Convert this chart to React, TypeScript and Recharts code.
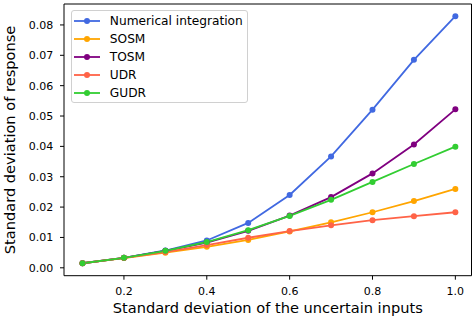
import React from 'react';
import { LineChart, Line, XAxis, YAxis, Legend, ReferenceArea } from 'recharts';

const sigmaInputs = [0.1, 0.2, 0.3, 0.4, 0.5, 0.6, 0.7, 0.8, 0.9, 1.0];
const numericalIntegration = [0.0015, 0.0033, 0.0057, 0.0090, 0.0148, 0.0240, 0.0367, 0.0521, 0.0685, 0.0829];
const sosm = [0.0015, 0.0032, 0.0050, 0.0069, 0.0092, 0.0120, 0.0150, 0.0183, 0.0220, 0.0260];
const tosm = [0.0015, 0.0033, 0.0056, 0.0083, 0.0122, 0.0172, 0.0233, 0.0311, 0.0406, 0.0522];
const udr = [0.0015, 0.0033, 0.0052, 0.0075, 0.0099, 0.0121, 0.0140, 0.0157, 0.0170, 0.0183];
const gudr = [0.0015, 0.0033, 0.0056, 0.0085, 0.0124, 0.0171, 0.0224, 0.0283, 0.0342, 0.0399];

const xTicks = [0.2, 0.4, 0.6, 0.8, 1.0];
const yTicks = [0, 0.01, 0.02, 0.03, 0.04, 0.05, 0.06, 0.07, 0.08];
const xDomain: [number, number] = [0.0553, 1.039];
const yDomain: [number, number] = [-0.0026, 0.0869];

const xLabel = 'Standard deviation of the uncertain inputs';
const yLabel = 'Standard deviation of response';

const series = [
  { key: 'ni', name: 'Numerical integration', color: '#4169E1', values: numericalIntegration },
  { key: 'sosm', name: 'SOSM', color: '#FFA500', values: sosm },
  { key: 'tosm', name: 'TOSM', color: '#800080', values: tosm },
  { key: 'udr', name: 'UDR', color: '#FF6347', values: udr },
  { key: 'gudr', name: 'GUDR', color: '#32CD32', values: gudr },
];

const data = sigmaInputs.map((x, i) => {
  const row: Record<string, number> = { x };
  series.forEach((s) => {
    row[s.key] = s.values[i];
  });
  return row;
});

const FONT = '"DejaVu Sans", sans-serif';

const LegendBox = () => (
  <div
    style={{
      width: 177,
      height: 93,
      boxSizing: 'border-box',
      border: '1px solid #d0d0d0',
      borderRadius: 3,
      background: 'rgba(255,255,255,0.8)',
      fontFamily: FONT,
      fontSize: 12.2,
      lineHeight: 1,
      color: '#000',
      paddingTop: 1,
    }}
  >
    {series.map((s) => (
      <div key={s.key} style={{ display: 'flex', alignItems: 'center', height: 18 }}>
        <svg width={26} height={10} style={{ marginLeft: 2.5, flex: 'none' }}>
          <line x1={0} y1={5} x2={26} y2={5} stroke={s.color} strokeWidth={1.8} />
          <circle cx={13} cy={5} r={3} fill={s.color} />
        </svg>
        <span style={{ marginLeft: 9.8, whiteSpace: 'nowrap' }}>{s.name}</span>
      </div>
    ))}
  </div>
);

const XLabelContent = (props: any) => {
  const vb = props.viewBox || {};
  return (
    <text x={vb.x + vb.width / 2} y={vb.y + 37.6} textAnchor="middle" fontFamily={FONT} fontSize={14.6} fill="#000">
      {xLabel}
    </text>
  );
};

const YLabelContent = () => {
  return (
    <text
      x={15.3}
      y={140}
      transform="rotate(-90, 15.3, 140)"
      textAnchor="middle"
      fontFamily={FONT}
      fontSize={14.6}
      fill="#000"
    >
      {yLabel}
    </text>
  );
};

export default function App() {
  return (
    <div style={{ position: 'absolute', left: 0, top: 0, background: '#fff' }}>
      <LineChart width={472} height={322} data={data} margin={{ top: 4, right: 0.5, bottom: 0, left: 0 }}>
        <XAxis
          dataKey="x"
          type="number"
          domain={xDomain}
          ticks={xTicks}
          allowDataOverflow
          tickFormatter={(v: number) => v.toFixed(1)}
          height={46.3}
          axisLine={false}
          tickLine={{ stroke: '#000', strokeWidth: 1 }}
          tickSize={4}
          tickMargin={7}
          tick={{ fontFamily: FONT, fontSize: 11, fill: '#000' }}
          label={<XLabelContent />}
        />
        <YAxis
          type="number"
          domain={yDomain}
          ticks={yTicks}
          allowDataOverflow
          tickFormatter={(v: number) => v.toFixed(2)}
          width={64}
          axisLine={false}
          tickLine={{ stroke: '#000', strokeWidth: 1 }}
          tickSize={4}
          tickMargin={6.7}
          tick={{ fontFamily: FONT, fontSize: 11, fill: '#000' }}
          label={<YLabelContent />}
        />
        <ReferenceArea
          x1={xDomain[0]}
          x2={xDomain[1]}
          y1={yDomain[0]}
          y2={yDomain[1]}
          fill="none"
          fillOpacity={0}
          stroke="#000"
          strokeWidth={1}
          ifOverflow="visible"
        />
        {series.map((s) => (
          <Line
            key={s.key}
            dataKey={s.key}
            name={s.name}
            stroke={s.color}
            strokeWidth={1.8}
            dot={{ r: 3, fill: s.color, stroke: s.color, strokeWidth: 0 }}
            activeDot={false}
            isAnimationActive={false}
          />
        ))}
        <Legend
          layout="vertical"
          align="center"
          verticalAlign="middle"
          content={() => <LegendBox />}
          wrapperStyle={{ left: 70.5, top: 10, width: 177, height: 93 }}
        />
      </LineChart>
    </div>
  );
}
